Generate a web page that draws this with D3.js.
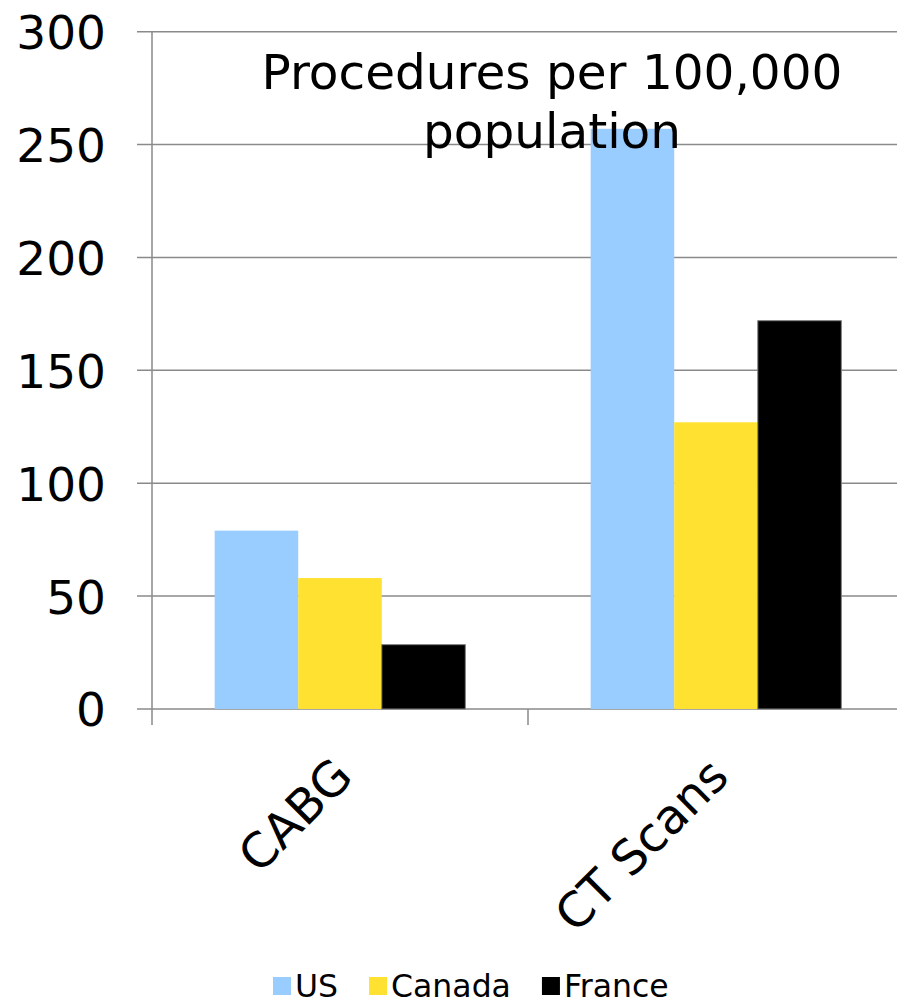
<!DOCTYPE html>
<html>
<head>
<meta charset="utf-8">
<script src="https://cdn.jsdelivr.net/npm/d3@7"></script>
<style>
  html, body { margin: 0; padding: 0; background: #fff; }
  svg { display: block; font-family: "DejaVu Sans", Verdana, sans-serif; }
</style>
</head>
<body>
<svg id="chart" width="897" height="1005"></svg>
<script>
// Procedures per 100,000 population, by country
const categories = ["CABG", "CT Scans"];
const seriesNames = ["US", "Canada", "France"];
const usValues = [79, 257];
const canadaValues = [58, 127];
const franceValues = [28.5, 172];
const yTicks = [0, 50, 100, 150, 200, 250, 300];
const titleLines = ["Procedures per 100,000", "population"];

const seriesValues = [usValues, canadaValues, franceValues];
const colors = ["#99CCFF", "#FFE231", "#000000"];
const gridColor = "#8a8a8a";

const svg = d3.select("#chart");

const plot = { left: 152, right: 904, top: 31.7, bottom: 709 };

const x = d3.scaleBand().domain(categories).range([plot.left, plot.right]).padding(0);
const xs = d3.scaleBand().domain(seriesNames).range([0, x.bandwidth()])
  .paddingInner(0).paddingOuter(0.75);
const y = d3.scaleLinear().domain([0, 300]).range([plot.bottom, plot.top]);

// horizontal gridlines, extended left past the axis as tick marks
svg.append("g").selectAll("line").data(yTicks).join("line")
  .attr("x1", plot.left - 15).attr("x2", plot.right)
  .attr("y1", d => y(d)).attr("y2", d => y(d))
  .attr("stroke", gridColor).attr("stroke-width", 1.5);

// bars
const rows = categories.map((c, i) => seriesNames.map((s, j) => ({ cat: c, series: s, value: seriesValues[j][i], k: j })));
svg.append("g").selectAll("g").data(rows).join("g")
  .attr("transform", d => `translate(${x(d[0].cat)},0)`)
  .selectAll("rect").data(d => d).join("rect")
  .attr("x", d => xs(d.series))
  .attr("width", xs.bandwidth())
  .attr("y", d => y(d.value))
  .attr("height", d => y(0) - y(d.value))
  .attr("fill", d => colors[d.k])
  .attr("stroke", d => d.k === 2 ? "#808080" : "none")
  .attr("stroke-width", 1);

// y axis with labels
const yAxis = d3.axisLeft(y).tickValues(yTicks).tickSizeInner(15).tickSizeOuter(0).tickPadding(31);
const gy = svg.append("g").attr("transform", `translate(${plot.left},0)`).call(yAxis);
gy.select(".domain").remove();
gy.selectAll(".tick line").remove();
gy.selectAll(".tick text")
  .attr("font-family", "DejaVu Sans, Verdana, sans-serif")
  .attr("font-size", 47).attr("fill", "#000").attr("dy", "0.36em");
gy.append("line")
  .attr("x1", 0).attr("x2", 0).attr("y1", plot.top).attr("y2", plot.bottom + 16)
  .attr("stroke", gridColor).attr("stroke-width", 1.5);

// x axis: category boundary ticks and rotated labels
const xAxis = d3.axisBottom(x).tickSize(0);
const gx = svg.append("g").attr("transform", `translate(0,${plot.bottom})`).call(xAxis);
gx.select(".domain").remove();
gx.selectAll(".tick text")
  .attr("font-family", "DejaVu Sans, Verdana, sans-serif")
  .attr("font-size", 48).attr("fill", "#000")
  .attr("text-anchor", "end")
  .attr("dy", null).attr("y", 0)
  .attr("transform", "translate(15,70) rotate(-45)");
gx.selectAll(".boundary").data(categories.slice(1).map(c => x(c)).concat([plot.right])).join("line")
  .attr("class", "boundary")
  .attr("x1", d => d).attr("x2", d => d).attr("y1", 0).attr("y2", 16)
  .attr("stroke", gridColor).attr("stroke-width", 1.5);

// title drawn over the bars
const title = svg.append("text")
  .attr("x", 552).attr("y", 89)
  .attr("text-anchor", "middle")
  .attr("font-size", 48.5).attr("fill", "#000");
title.selectAll("tspan").data(titleLines).join("tspan")
  .attr("x", 552).attr("dy", (d, i) => i === 0 ? 0 : 59)
  .text(d => d);

// legend along the bottom edge
const legend = svg.append("g");
let lx = 273;
seriesNames.forEach((s, i) => {
  legend.append("rect").attr("x", lx).attr("y", 977).attr("width", 18).attr("height", 18)
    .attr("fill", colors[i]);
  const t = legend.append("text").attr("x", lx + 22).attr("y", 996.5)
    .attr("font-size", 31.5).attr("fill", "#000").text(s);
  lx += 22 + t.node().getComputedTextLength() + 31;
});
</script>
</body>
</html>
